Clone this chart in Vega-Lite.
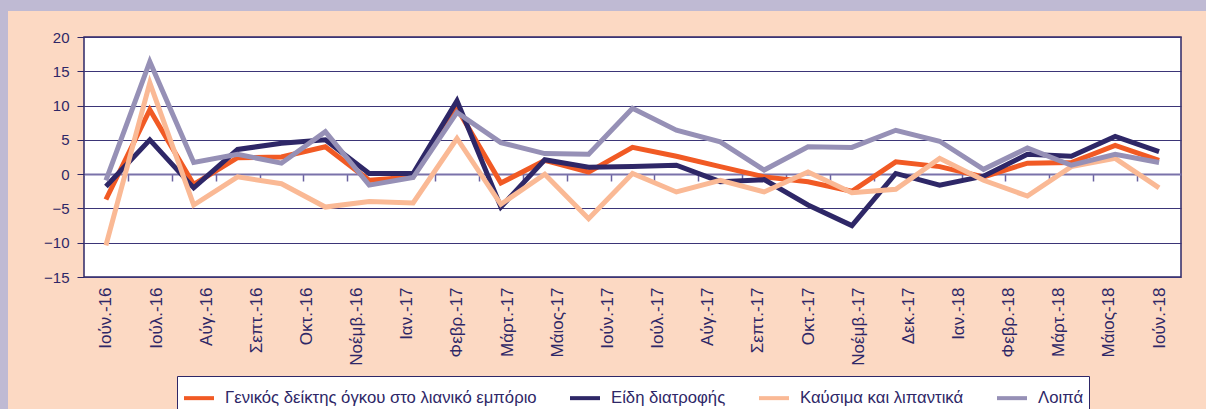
{
  "$schema": "https://vega.github.io/schema/vega-lite/v6.json",
  "background": "#FCD9C3",
  "padding": 0,
  "autosize": {"type": "pad"},
  "config": {"font": "Liberation Sans", "view": {"stroke": null}},
  "datasets": {
    "retail": [
      {"i": 0, "month": "Ιούν.-16", "Γενικός δείκτης όγκου στο λιανικό εμπόριο": -3.7, "Είδη διατροφής": -1.8, "Καύσιμα και λιπαντικά": -10.4, "Λοιπά": -0.9},
      {"i": 1, "month": "Ιούλ.-16", "Γενικός δείκτης όγκου στο λιανικό εμπόριο": 9.4, "Είδη διατροφής": 5.0, "Καύσιμα και λιπαντικά": 13.3, "Λοιπά": 16.4},
      {"i": 2, "month": "Αύγ.-16", "Γενικός δείκτης όγκου στο λιανικό εμπόριο": -1.5, "Είδη διατροφής": -2.0, "Καύσιμα και λιπαντικά": -4.5, "Λοιπά": 1.7},
      {"i": 3, "month": "Σεπτ.-16", "Γενικός δείκτης όγκου στο λιανικό εμπόριο": 2.4, "Είδη διατροφής": 3.6, "Καύσιμα και λιπαντικά": -0.4, "Λοιπά": 2.9},
      {"i": 4, "month": "Οκτ.-16", "Γενικός δείκτης όγκου στο λιανικό εμπόριο": 2.5, "Είδη διατροφής": 4.5, "Καύσιμα και λιπαντικά": -1.4, "Λοιπά": 1.6},
      {"i": 5, "month": "Νοέμβ.-16", "Γενικός δείκτης όγκου στο λιανικό εμπόριο": 4.0, "Είδη διατροφής": 5.0, "Καύσιμα και λιπαντικά": -4.8, "Λοιπά": 6.2},
      {"i": 6, "month": "Δεκ.-16", "Γενικός δείκτης όγκου στο λιανικό εμπόριο": -0.9, "Είδη διατροφής": 0.1, "Καύσιμα και λιπαντικά": -4.0, "Λοιπά": -1.6},
      {"i": 7, "month": "Ιαν.-17", "Γενικός δείκτης όγκου στο λιανικό εμπόριο": -0.4, "Είδη διατροφής": 0.1, "Καύσιμα και λιπαντικά": -4.2, "Λοιπά": -0.5},
      {"i": 8, "month": "Φεβρ.-17", "Γενικός δείκτης όγκου στο λιανικό εμπόριο": 9.6, "Είδη διατροφής": 10.7, "Καύσιμα και λιπαντικά": 5.2, "Λοιπά": 9.0},
      {"i": 9, "month": "Μάρτ.-17", "Γενικός δείκτης όγκου στο λιανικό εμπόριο": -1.3, "Είδη διατροφής": -4.8, "Καύσιμα και λιπαντικά": -4.4, "Λοιπά": 4.6},
      {"i": 10, "month": "Απρ.-17", "Γενικός δείκτης όγκου στο λιανικό εμπόριο": 2.0, "Είδη διατροφής": 2.1, "Καύσιμα και λιπαντικά": 0.0, "Λοιπά": 3.0},
      {"i": 11, "month": "Μάιος-17", "Γενικός δείκτης όγκου στο λιανικό εμπόριο": 0.3, "Είδη διατροφής": 1.0, "Καύσιμα και λιπαντικά": -6.5, "Λοιπά": 2.9},
      {"i": 12, "month": "Ιούν.-17", "Γενικός δείκτης όγκου στο λιανικό εμπόριο": 3.9, "Είδη διατροφής": 1.1, "Καύσιμα και λιπαντικά": 0.1, "Λοιπά": 9.6},
      {"i": 13, "month": "Ιούλ.-17", "Γενικός δείκτης όγκου στο λιανικό εμπόριο": 2.6, "Είδη διατροφής": 1.3, "Καύσιμα και λιπαντικά": -2.6, "Λοιπά": 6.4},
      {"i": 14, "month": "Αύγ.-17", "Γενικός δείκτης όγκου στο λιανικό εμπόριο": 1.1, "Είδη διατροφής": -1.1, "Καύσιμα και λιπαντικά": -0.9, "Λοιπά": 4.7},
      {"i": 15, "month": "Σεπτ.-17", "Γενικός δείκτης όγκου στο λιανικό εμπόριο": -0.4, "Είδη διατροφής": -0.8, "Καύσιμα και λιπαντικά": -2.6, "Λοιπά": 0.6},
      {"i": 16, "month": "Οκτ.-17", "Γενικός δείκτης όγκου στο λιανικό εμπόριο": -1.1, "Είδη διατροφής": -4.5, "Καύσιμα και λιπαντικά": 0.3, "Λοιπά": 4.0},
      {"i": 17, "month": "Νοέμβ.-17", "Γενικός δείκτης όγκου στο λιανικό εμπόριο": -2.5, "Είδη διατροφής": -7.5, "Καύσιμα και λιπαντικά": -2.7, "Λοιπά": 3.9},
      {"i": 18, "month": "Δεκ.-17", "Γενικός δείκτης όγκου στο λιανικό εμπόριο": 1.8, "Είδη διατροφής": 0.1, "Καύσιμα και λιπαντικά": -2.2, "Λοιπά": 6.4},
      {"i": 19, "month": "Ιαν.-18", "Γενικός δείκτης όγκου στο λιανικό εμπόριο": 1.1, "Είδη διατροφής": -1.6, "Καύσιμα και λιπαντικά": 2.3, "Λοιπά": 4.8},
      {"i": 20, "month": "Φεβρ.-18", "Γενικός δείκτης όγκου στο λιανικό εμπόριο": -0.4, "Είδη διατροφής": -0.3, "Καύσιμα και λιπαντικά": -0.9, "Λοιπά": 0.7},
      {"i": 21, "month": "Μάρτ.-18", "Γενικός δείκτης όγκου στο λιανικό εμπόριο": 1.6, "Είδη διατροφής": 2.9, "Καύσιμα και λιπαντικά": -3.2, "Λοιπά": 3.8},
      {"i": 22, "month": "Απρ.-18", "Γενικός δείκτης όγκου στο λιανικό εμπόριο": 1.7, "Είδη διατροφής": 2.6, "Καύσιμα και λιπαντικά": 1.1, "Λοιπά": 1.3},
      {"i": 23, "month": "Μάιος-18", "Γενικός δείκτης όγκου στο λιανικό εμπόριο": 4.2, "Είδη διατροφής": 5.5, "Καύσιμα και λιπαντικά": 2.3, "Λοιπά": 2.9},
      {"i": 24, "month": "Ιούν.-18", "Γενικός δείκτης όγκου στο λιανικό εμπόριο": 2.0, "Είδη διατροφής": 3.3, "Καύσιμα και λιπαντικά": -2.0, "Λοιπά": 1.7}
    ]
  },
  "spacing": 0,
  "bounds": "flush",
  "hconcat": [
    {
      "width": 8,
      "height": 409,
      "view": {"fill": "#BFBAD3", "stroke": null},
      "data": {"values": [{}]},
      "mark": {"type": "point", "opacity": 0}
    },
    {
      "spacing": 26,
      "bounds": "flush",
      "vconcat": [
        {
          "width": 1198,
          "height": 11,
          "view": {"fill": "#BFBAD3", "stroke": null},
          "data": {"values": [{}]},
          "mark": {"type": "point", "opacity": 0}
        },
        {
          "spacing": 75,
          "bounds": "flush",
          "hconcat": [
            {
              "width": 1,
              "height": 1,
              "data": {"values": [{}]},
              "mark": {"type": "point", "opacity": 0}
            },
            {
              "width": 1097,
              "height": 240,
              "view": {"fill": "white", "stroke": "#2E2767", "strokeWidth": 1.5},
              "data": {"name": "retail"},
              "transform": [
                {"fold": ["Γενικός δείκτης όγκου στο λιανικό εμπόριο", "Είδη διατροφής", "Καύσιμα και λιπαντικά", "Λοιπά"], "as": ["series", "value"]}
              ],
              "layer": [
                {
                  "mark": {"type": "point", "opacity": 0},
                  "encoding": {
                    "x": {
                      "field": "i", "type": "quantitative",
                      "scale": {"domain": [-0.5, 24.5], "nice": false, "zero": false},
                      "axis": {
                        "orient": "bottom", "offset": -103, "title": null,
                        "values": [0.5, 1.5, 2.5, 3.5, 4.5, 5.5, 6.5, 7.5, 8.5, 9.5, 10.5, 11.5, 12.5, 13.5, 14.5, 15.5, 16.5, 17.5, 18.5, 19.5, 20.5, 21.5, 22.5, 23.5],
                        "labels": false, "ticks": true, "tickSize": 7, "tickColor": "#6A62A0", "tickWidth": 1.5,
                        "domain": true, "domainColor": "#7A72AA", "domainWidth": 2, "grid": false
                      }
                    },
                    "y": {
                      "field": "value", "type": "quantitative",
                      "scale": {"domain": [-15, 20], "nice": false},
                      "axis": {
                        "title": null, "values": [-15, -10, -5, 0, 5, 10, 15, 20],
                        "domain": false, "ticks": true, "tickSize": 7, "tickColor": "#2E2767",
                        "labelFontSize": 15, "labelColor": "#2E2767", "labelPadding": 8,
                        "grid": true, "gridColor": "#3B3577", "gridWidth": 1.2
                      }
                    }
                  }
                },
                {
                  "mark": {"type": "line", "strokeWidth": 5},
                  "encoding": {
                    "x": {
                      "field": "i", "type": "quantitative",
                      "scale": {"domain": [-0.5, 24.5], "nice": false, "zero": false},
                      "axis": {
                        "orient": "bottom", "title": null,
                        "values": [0, 1.142857, 2.285714, 3.428571, 4.571429, 5.714286, 6.857143, 8, 9.142857, 10.285714, 11.428571, 12.571429, 13.714286, 14.857143, 16, 17.142857, 18.285714, 19.428571, 20.571429, 21.714286, 22.857143, 24],
                        "labelExpr": "['Ιούν.-16','Ιούλ.-16','Αύγ.-16','Σεπτ.-16','Οκτ.-16','Νοέμβ.-16','Ιαν.-17','Φεβρ.-17','Μάρτ.-17','Μάιος-17','Ιούν.-17','Ιούλ.-17','Αύγ.-17','Σεπτ.-17','Οκτ.-17','Νοέμβ.-17','Δεκ.-17','Ιαν.-18','Φεβρ.-18','Μάρτ.-18','Μάιος-18','Ιούν.-18'][round(datum.value*7/8)]",
                        "labelAngle": 270, "labelPadding": 10, "labelFontSize": 17, "labelColor": "#2E2767",
                        "labelOverlap": false, "labelFlush": false, "labelBound": false,
                        "ticks": false, "domain": false, "grid": false
                      }
                    },
                    "y": {
                      "field": "value", "type": "quantitative",
                      "scale": {"domain": [-15, 20], "nice": false},
                      "axis": {
                        "title": null, "values": [-15, -10, -5, 0, 5, 10, 15, 20],
                        "domain": false, "ticks": true, "tickSize": 7, "tickColor": "#2E2767",
                        "labelFontSize": 15, "labelColor": "#2E2767", "labelPadding": 8,
                        "grid": true, "gridColor": "#3B3577", "gridWidth": 1.2
                      }
                    },
                    "color": {
                      "field": "series", "type": "nominal",
                      "scale": {
                        "domain": ["Γενικός δείκτης όγκου στο λιανικό εμπόριο", "Είδη διατροφής", "Καύσιμα και λιπαντικά", "Λοιπά"],
                        "range": ["#F15A24", "#2E2767", "#FAB995", "#9690B6"]
                      },
                      "legend": {
                        "title": null, "orient": "none", "legendX": 177, "legendY": 376,
                        "direction": "horizontal", "columns": 4,
                        "symbolType": "stroke", "symbolSize": 900, "symbolStrokeWidth": 4,
                        "labelFontSize": 16.7, "labelColor": "#2E2767", "labelOffset": 9, "labelLimit": 0,
                        "columnPadding": 25, "padding": 5,
                        "fillColor": "white", "strokeColor": "#2E2767"
                      }
                    }
                  }
                }
              ],
              "resolve": {"axis": {"x": "independent"}}
            }
          ]
        }
      ]
    }
  ]
}
